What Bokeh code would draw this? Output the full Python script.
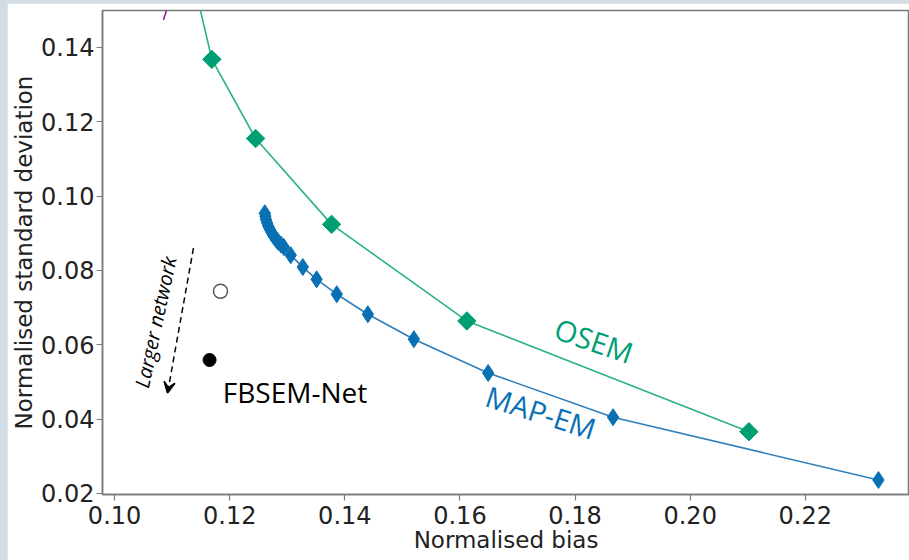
from bokeh.plotting import figure
from bokeh.layouts import column
from bokeh.models import Range1d, FixedTicker, Arrow, VeeHead, PrintfTickFormatter
from bokeh.core.properties import value
from bokeh.embed import file_html
from bokeh.resources import INLINE

# OSEM curve (normalised bias, normalised std)
osem_x = [0.1140, 0.1169, 0.1245, 0.1377, 0.1612, 0.2102]
osem_y = [0.1560, 0.1368, 0.1155, 0.0924, 0.0664, 0.0366]

# MAP-EM curve
map_x = [0.1261, 0.1262, 0.1263, 0.1265, 0.1267, 0.1270, 0.1273, 0.1276, 0.1280,
         0.1284, 0.1289, 0.1294, 0.1306, 0.1327, 0.1351, 0.1386, 0.1440, 0.1520,
         0.1649, 0.1866, 0.2327]
map_y = [0.0954, 0.0946, 0.0937, 0.0928, 0.0919, 0.0910, 0.0901, 0.0893, 0.0885,
         0.0877, 0.0870, 0.0863, 0.0841, 0.0809, 0.0776, 0.0736, 0.0682, 0.0615,
         0.0524, 0.0405, 0.0236]

# another curve leaving the top of the plot
other_x = [0.1085, 0.1096]
other_y = [0.1474, 0.1530]

# FBSEM-Net results
fb_open_x = [0.1184]
fb_open_y = [0.0744]
fb_fill_x = [0.1165]
fb_fill_y = [0.0559]

x_ticks = [0.10, 0.12, 0.14, 0.16, 0.18, 0.20, 0.22]
y_ticks = [0.02, 0.04, 0.06, 0.08, 0.10, 0.12, 0.14]

GREEN_LINE = "#2bb184"
GREEN = "#009e73"
BLUE_LINE = "#2f7fbb"
BLUE = "#0a70b4"
TICK_FONT = "DejaVu Sans"

p = figure(width=902, height=557, output_backend="svg", toolbar_location=None,
           x_range=Range1d(0.0979, 0.2381), y_range=Range1d(0.0197, 0.14995),
           min_border_left=95, min_border_top=7, min_border_bottom=66, min_border_right=0)
p.margin = (3, 0, 0, 7)
p.grid.visible = False
p.outline_line_color = "#7a7a7a"
p.outline_line_width = 1.5
p.background_fill_color = "white"
p.border_fill_color = "white"

for ax in (p.xaxis[0], p.yaxis[0]):
    ax.axis_line_color = "#7a7a7a"
    ax.axis_line_width = 1.5
    ax.major_tick_line_color = "#7a7a7a"
    ax.major_tick_line_width = 1.2
    ax.major_tick_out = 6
    ax.major_tick_in = 0
    ax.minor_tick_line_color = None
    ax.major_label_text_font = TICK_FONT
    ax.major_label_text_font_size = "24px"
    ax.major_label_text_color = "#222222"
    ax.axis_label_text_font = TICK_FONT
    ax.axis_label_text_font_size = "23px"
    ax.axis_label_text_font_style = "normal"
    ax.axis_label_text_color = "#222222"
    ax.formatter = PrintfTickFormatter(format="%.2f")

p.xaxis.ticker = FixedTicker(ticks=x_ticks)
p.yaxis.ticker = FixedTicker(ticks=y_ticks)
p.xaxis.axis_label = "Normalised bias"
p.yaxis.axis_label = "Normalised standard deviation"
p.xaxis.major_label_standoff = 5
p.xaxis.axis_label_standoff = 0
p.yaxis.major_label_standoff = 2
p.yaxis.axis_label_standoff = 1

# curves
p.line(other_x, other_y, line_color="#8b1a8b", line_width=1.5)
p.line(osem_x, osem_y, line_color=GREEN_LINE, line_width=1.6)
p.scatter(osem_x, osem_y, marker="square", size=13, angle=0.785398,
          fill_color=GREEN, line_color=GREEN)
p.line(map_x, map_y, line_color=BLUE_LINE, line_width=1.6)
p.scatter(map_x, map_y, marker="diamond", size=17, fill_color=BLUE, line_color=BLUE)

# FBSEM-Net points
p.scatter(fb_open_x, fb_open_y, marker="circle", size=14, fill_color="white",
          line_color="#555555", line_width=1.5)
p.scatter(fb_fill_x, fb_fill_y, marker="circle", size=13, fill_color="black",
          line_color="black")

# labels
p.text(x=[0.1188], y=[0.0473], text=["FBSEM-Net"], text_font=value("Open Sans"),
       text_font_size="28px", text_color="black", text_align="left", text_baseline="middle")
p.text(x=[0.1833], y=[0.0612], text=["OSEM"], text_font=value("Open Sans"),
       text_font_size="29px", text_color=GREEN, text_align="center", text_baseline="middle",
       angle=-0.33)
p.text(x=[0.1741], y=[0.0419], text=["MAP-EM"], text_font=value("Open Sans"),
       text_font_size="29px", text_color=BLUE, text_align="center", text_baseline="middle",
       angle=-0.31)
p.text(x=[0.1071], y=[0.0661], text=["Larger network"], text_font=value("Open Sans"),
       text_font_size="20px", text_font_style="italic", text_color="black",
       text_align="center", text_baseline="middle", angle=1.36)

p.add_layout(Arrow(x_start=0.1137, y_start=0.0860, x_end=0.1092, y_end=0.0470,
                   line_color="black", line_width=1.5, line_dash="6 4",
                   end=VeeHead(size=11, line_color="black", line_width=1.5)))

layout = column(p, styles={"background-color": "#d3dbe3"})
open("out.html", "w").write(file_html(layout, INLINE))
